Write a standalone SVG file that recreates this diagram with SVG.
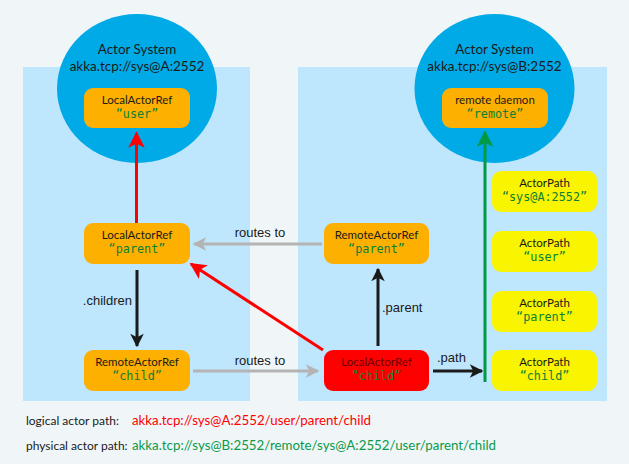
<svg xmlns="http://www.w3.org/2000/svg" width="629" height="464" viewBox="0 0 629 464">
<defs>
<style>
.t{font-family:Lato,"Open Sans","DejaVu Sans",sans-serif;fill:#1a1a1a;text-anchor:middle}
.m{font-family:"DejaVu Sans Mono","Liberation Mono",monospace;fill:#0a8038;text-anchor:middle;font-size:11.8px}
.l{font-family:"Liberation Sans",Arial,sans-serif;fill:#1a1a1a;font-size:13px}
.lg{font-family:Lato,"Open Sans","DejaVu Sans",sans-serif;font-size:13.5px;fill:#1a1a1a}
.lb{font-family:Lato,"Open Sans","DejaVu Sans",sans-serif;font-size:12px;fill:#1a1a1a}
.box{fill:#fdb000}
.yb{fill:#f9f400}
.ell{fill:#00aae6}
</style>
<marker id="aRed" viewBox="0 0 10 10" refX="9" refY="5" markerWidth="6" markerHeight="5.5" markerUnits="strokeWidth" orient="auto"><path d="M0,0 L10,5 L0,10 L2.5,5 z" fill="#ff0000"/></marker>
<marker id="aGreen" viewBox="0 0 10 10" refX="9" refY="5" markerWidth="6" markerHeight="5.5" markerUnits="strokeWidth" orient="auto"><path d="M0,0 L10,5 L0,10 L2.5,5 z" fill="#009944"/></marker>
<marker id="aBlack" viewBox="0 0 10 10" refX="9" refY="5" markerWidth="5" markerHeight="4.5" markerUnits="strokeWidth" orient="auto"><path d="M0,0 L10,5 L0,10 L2.5,5 z" fill="#1a1a1a"/></marker>
<marker id="aGray" viewBox="0 0 10 10" refX="9" refY="5" markerWidth="5" markerHeight="4.5" markerUnits="strokeWidth" orient="auto"><path d="M0,0 L10,5 L0,10 L2.5,5 z" fill="#b4b4b4"/></marker>
</defs>
<rect width="629" height="464" fill="#f0f6f8"/>
<rect x="23" y="67" width="227" height="334" fill="#bee6fd"/>
<rect x="298" y="67" width="309" height="334" fill="#bee6fd"/>

<g id="systemA">
<ellipse class="ell" cx="137" cy="88.5" rx="80" ry="74.5"/>
<text class="t" x="137" y="54" font-size="13.5">Actor System</text>
<text class="t" x="137" y="71" font-size="13.5">akka.tcp://sys@A:2552</text>
</g>
<g id="systemB">
<ellipse class="ell" cx="494.5" cy="88.5" rx="80" ry="74.5"/>
<text class="t" x="494.5" y="54" font-size="13.5">Actor System</text>
<text class="t" x="494.5" y="71" font-size="13.5">akka.tcp://sys@B:2552</text>
</g>

<g id="user">
<rect class="box" x="84" y="88" width="106" height="40" rx="9"/>
<text class="t" x="137" y="104" font-size="11.5">LocalActorRef</text>
<text class="m" x="137" y="118">“user”</text>
</g>
<g id="remote">
<rect class="box" x="442" y="88" width="106" height="40" rx="9"/>
<text class="t" x="495" y="104" font-size="11.5">remote daemon</text>
<text class="m" x="495" y="118">“remote”</text>
</g>
<g id="parentLocal">
<rect class="box" x="84" y="223" width="106" height="41" rx="9"/>
<text class="t" x="137" y="239" font-size="11.5">LocalActorRef</text>
<text class="m" x="137" y="253">“parent”</text>
</g>
<g id="childRemote">
<rect class="box" x="84" y="350" width="106" height="41" rx="9"/>
<text class="t" x="137" y="366" font-size="11.5">RemoteActorRef</text>
<text class="m" x="137" y="380">“child”</text>
</g>
<g id="parentRemote">
<rect class="box" x="324" y="223" width="105" height="41" rx="9"/>
<text class="t" x="376.5" y="239" font-size="11.5">RemoteActorRef</text>
<text class="m" x="376.5" y="253">“parent”</text>
</g>
<g id="childLocal">
<rect x="324" y="350" width="105" height="41" rx="9" fill="#ff0000"/>
<text class="t" x="376.5" y="366" font-size="11.5" style="fill:#6a0000">LocalActorRef</text>
<text class="m" x="376.5" y="380">“child”</text>
</g>
<g id="pathSys">
<rect class="yb" x="492" y="171" width="105" height="41" rx="9"/>
<text class="t" x="544.5" y="187" font-size="11.5">ActorPath</text>
<text class="m" x="544.5" y="201">“sys@A:2552”</text>
</g>
<g id="pathUser">
<rect class="yb" x="492" y="231" width="105" height="41" rx="9"/>
<text class="t" x="544.5" y="247" font-size="11.5">ActorPath</text>
<text class="m" x="544.5" y="261">“user”</text>
</g>
<g id="pathParent">
<rect class="yb" x="492" y="291" width="105" height="41" rx="9"/>
<text class="t" x="544.5" y="307" font-size="11.5">ActorPath</text>
<text class="m" x="544.5" y="321">“parent”</text>
</g>
<g id="pathChild">
<rect class="yb" x="492" y="350" width="105" height="41" rx="9"/>
<text class="t" x="544.5" y="366" font-size="11.5">ActorPath</text>
<text class="m" x="544.5" y="380">“child”</text>
</g>

<g id="connectors" fill="none" stroke-width="3">
<line x1="136.5" y1="223" x2="136.5" y2="133" stroke="#ff0000" marker-end="url(#aRed)"/>
<line x1="323" y1="350" x2="191" y2="264" stroke="#ff0000" marker-end="url(#aRed)"/>
<line x1="485" y1="382" x2="485" y2="132" stroke="#009944" marker-end="url(#aGreen)"/>
<line x1="322" y1="244" x2="194" y2="244" stroke="#b4b4b4" marker-end="url(#aGray)"/>
<line x1="193" y1="371" x2="318" y2="371" stroke="#b4b4b4" marker-end="url(#aGray)"/>
<line x1="137" y1="270" x2="137" y2="346" stroke="#1a1a1a" marker-end="url(#aBlack)"/>
<line x1="378" y1="346" x2="378" y2="269" stroke="#1a1a1a" marker-end="url(#aBlack)"/>
<line x1="433" y1="371" x2="482" y2="371" stroke="#1a1a1a" marker-end="url(#aBlack)"/>
<text class="l" x="260" y="237" text-anchor="middle">routes to</text>
<text class="l" x="260" y="365" text-anchor="middle">routes to</text>
<text class="l" x="132" y="305" text-anchor="end">.children</text>
<text class="l" x="382" y="312">.parent</text>
<text class="l" x="437" y="362">.path</text>
</g>

<g id="legend">
<text class="lb" x="26" y="425">logical actor path:</text>
<text class="lg" x="132" y="425" style="fill:#ff0000" textLength="239" lengthAdjust="spacingAndGlyphs">akka.tcp://sys@A:2552/user/parent/child</text>
<text class="lb" x="26" y="450">physical actor path:</text>
<text class="lg" x="132" y="450" style="fill:#0a9a4a" textLength="364" lengthAdjust="spacingAndGlyphs">akka.tcp://sys@B:2552/remote/sys@A:2552/user/parent/child</text>
</g>
</svg>
